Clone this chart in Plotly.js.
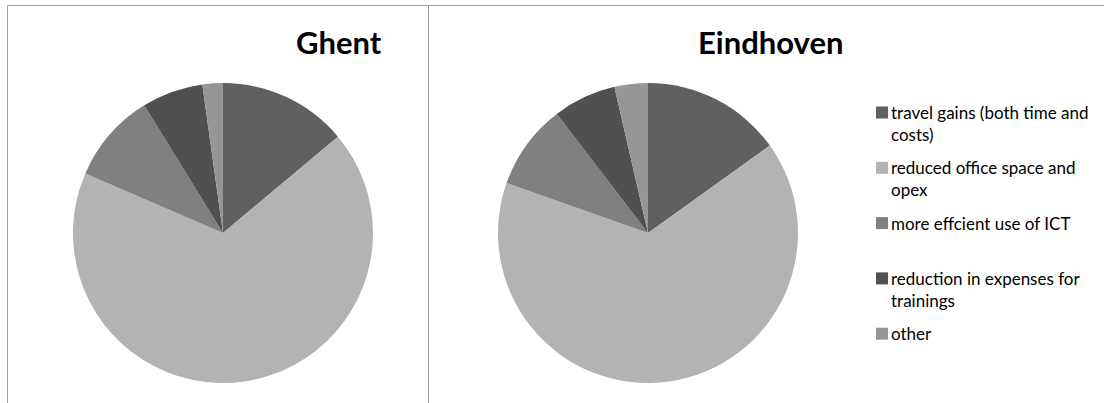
<!DOCTYPE html>
<html>
<head>
<meta charset="utf-8">
<script src="https://cdn.plot.ly/plotly-3.0.1.min.js"></script>
<style>
  html, body { margin: 0; padding: 0; background: #ffffff; }
  #chart { width: 1104px; height: 403px; }
</style>
</head>
<body>
<div id="chart"></div>
<script>
// Savings categories, shared by both city pies
const categories = [
  'travel gains (both time and costs)',
  'reduced office space and opex',
  'more effcient use of ICT',
  'reduction in expenses for trainings',
  'other'
];
// Legend text, wrapped the way it is laid out beside the pies
const legendLabels = [
  'travel gains (both time and<br>costs)',
  'reduced office space and<br>opex',
  'more effcient use of ICT',
  'reduction in expenses for<br>trainings',
  'other'
];
// Share of each category (%)
const ghentValues = [13.9, 67.6, 9.7, 6.6, 2.2];
const eindhovenValues = [15.1, 65.3, 9.2, 6.8, 3.6];
// Slice colours, one per category
const sliceColors = ['#606060', '#b3b3b3', '#808080', '#505050', '#969696'];
const cityNames = ['Ghent', 'Eindhoven'];

const W = 1104, H = 403;
const px = x => x / W;          // pixel column -> paper x
const py = y => 1 - y / H;      // pixel row -> paper y

// Each pie sits in a square of side 2r around its centre
function pieDomain(cx, cy, r) {
  return { x: [px(cx - r), px(cx + r)], y: [py(cy + r), py(cy - r)] };
}

function pieTrace(name, values, domain) {
  return {
    type: 'pie',
    name: name,
    labels: categories,
    values: values,
    sort: false,
    direction: 'clockwise',
    rotation: 0,
    textinfo: 'none',
    hoverinfo: 'label+percent',
    marker: { colors: sliceColors, line: { width: 0 } },
    domain: domain,
    showlegend: false
  };
}

const data = [
  pieTrace(cityNames[0], ghentValues, pieDomain(223, 233, 150)),
  pieTrace(cityNames[1], eindhovenValues, pieDomain(648, 233, 150))
];

const titleFont = { family: 'Lato, "Open Sans", sans-serif', size: 31, color: '#000000' };
const legendFont = { family: 'Lato, "Open Sans", sans-serif', size: 17, color: '#000000' };

const annotations = [
  { text: '<b>' + cityNames[0] + '</b>', x: px(339), y: py(42) },
  { text: '<b>' + cityNames[1] + '</b>', x: px(770), y: py(42) }
].map(a => Object.assign(a, {
  xref: 'paper', yref: 'paper', xanchor: 'center', yanchor: 'middle',
  showarrow: false, font: titleFont
}));

// Chart frames: top edge, left edge and the divider between the two charts
const frameLine = { color: '#a0a0a0', width: 1 };
const shapes = [
  { type: 'line', x0: px(7), x1: px(1104), y0: py(5.5), y1: py(5.5), line: frameLine },
  { type: 'line', x0: px(7.5), x1: px(7.5), y0: py(5), y1: py(403), line: frameLine },
  { type: 'line', x0: px(428.5), x1: px(428.5), y0: py(5), y1: py(403), line: frameLine }
].map(s => Object.assign(s, { xref: 'paper', yref: 'paper' }));

// Legend: a colour square and wrapped label per category
const legendTop = 112.5, legendStep = 55.3, swatch = 12, swatchX = 876, textX = 889;
legendLabels.forEach((label, i) => {
  const cy = legendTop + legendStep * i;
  shapes.push({
    type: 'rect', xref: 'paper', yref: 'paper',
    x0: px(swatchX), x1: px(swatchX + swatch),
    y0: py(cy + swatch / 2), y1: py(cy - swatch / 2),
    fillcolor: sliceColors[i], line: { width: 0 }
  });
  annotations.push({
    text: label, xref: 'paper', yref: 'paper',
    x: px(textX), y: py(cy - 12.5), xanchor: 'left', yanchor: 'top',
    align: 'left', showarrow: false, font: legendFont
  });
});

const layout = {
  width: W, height: H,
  margin: { l: 0, r: 0, t: 0, b: 0 },
  paper_bgcolor: '#ffffff',
  plot_bgcolor: '#ffffff',
  showlegend: false,
  annotations: annotations,
  shapes: shapes
};

Plotly.newPlot('chart', data, layout, { displayModeBar: false, staticPlot: true });
</script>
</body>
</html>
